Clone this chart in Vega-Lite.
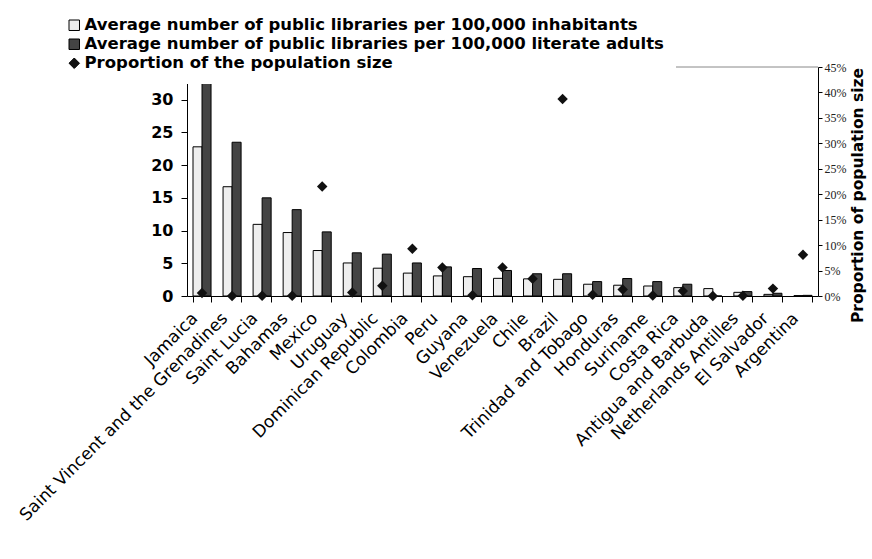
{
  "$schema": "https://vega.github.io/schema/vega-lite/v6.json",
  "width": 631,
  "height": 229,
  "autosize": {"type": "none"},
  "padding": {"left": 187, "top": 67, "right": 54, "bottom": 263},
  "background": "white",
  "config": {
    "view": {"stroke": null},
    "font": "DejaVu Sans",
    "legend": {
      "orient": "none",
      "legendX": -133,
      "legendY": -62,
      "fillColor": "white",
      "strokeColor": null,
      "padding": 12,
      "rowPadding": 2,
      "labelFont": "DejaVu Sans",
      "labelFontWeight": "bold",
      "labelFontSize": 16.5,
      "labelColor": "#000",
      "labelLimit": 700,
      "labelOffset": 2,
      "symbolSize": 110,
      "symbolStrokeColor": "#000",
      "symbolStrokeWidth": 1
    }
  },
  "datasets": {
    "libs": [
      {"country": "Jamaica", "series": "Average number of public libraries per 100,000 inhabitants", "value": 22.8},
      {"country": "Jamaica", "series": "Average number of public libraries per 100,000 literate adults", "value": 34},
      {"country": "Jamaica", "series": "Proportion of the population size", "value": 0.006},
      {"country": "Saint Vincent and the Grenadines", "series": "Average number of public libraries per 100,000 inhabitants", "value": 16.7},
      {"country": "Saint Vincent and the Grenadines", "series": "Average number of public libraries per 100,000 literate adults", "value": 23.5},
      {"country": "Saint Vincent and the Grenadines", "series": "Proportion of the population size", "value": 0.0002},
      {"country": "Saint Lucia", "series": "Average number of public libraries per 100,000 inhabitants", "value": 10.95},
      {"country": "Saint Lucia", "series": "Average number of public libraries per 100,000 literate adults", "value": 15.0},
      {"country": "Saint Lucia", "series": "Proportion of the population size", "value": 0.0003},
      {"country": "Bahamas", "series": "Average number of public libraries per 100,000 inhabitants", "value": 9.7},
      {"country": "Bahamas", "series": "Average number of public libraries per 100,000 literate adults", "value": 13.2},
      {"country": "Bahamas", "series": "Proportion of the population size", "value": 0.0006},
      {"country": "Mexico", "series": "Average number of public libraries per 100,000 inhabitants", "value": 6.95},
      {"country": "Mexico", "series": "Average number of public libraries per 100,000 literate adults", "value": 9.8},
      {"country": "Mexico", "series": "Proportion of the population size", "value": 0.215},
      {"country": "Uruguay", "series": "Average number of public libraries per 100,000 inhabitants", "value": 5.05},
      {"country": "Uruguay", "series": "Average number of public libraries per 100,000 literate adults", "value": 6.6},
      {"country": "Uruguay", "series": "Proportion of the population size", "value": 0.007},
      {"country": "Dominican Republic", "series": "Average number of public libraries per 100,000 inhabitants", "value": 4.25},
      {"country": "Dominican Republic", "series": "Average number of public libraries per 100,000 literate adults", "value": 6.4},
      {"country": "Dominican Republic", "series": "Proportion of the population size", "value": 0.02},
      {"country": "Colombia", "series": "Average number of public libraries per 100,000 inhabitants", "value": 3.5},
      {"country": "Colombia", "series": "Average number of public libraries per 100,000 literate adults", "value": 5.05},
      {"country": "Colombia", "series": "Proportion of the population size", "value": 0.093},
      {"country": "Peru", "series": "Average number of public libraries per 100,000 inhabitants", "value": 3.07},
      {"country": "Peru", "series": "Average number of public libraries per 100,000 literate adults", "value": 4.45},
      {"country": "Peru", "series": "Proportion of the population size", "value": 0.056},
      {"country": "Guyana", "series": "Average number of public libraries per 100,000 inhabitants", "value": 2.95},
      {"country": "Guyana", "series": "Average number of public libraries per 100,000 literate adults", "value": 4.2},
      {"country": "Guyana", "series": "Proportion of the population size", "value": 0.0015},
      {"country": "Venezuela", "series": "Average number of public libraries per 100,000 inhabitants", "value": 2.7},
      {"country": "Venezuela", "series": "Average number of public libraries per 100,000 literate adults", "value": 3.9},
      {"country": "Venezuela", "series": "Proportion of the population size", "value": 0.056},
      {"country": "Chile", "series": "Average number of public libraries per 100,000 inhabitants", "value": 2.62},
      {"country": "Chile", "series": "Average number of public libraries per 100,000 literate adults", "value": 3.4},
      {"country": "Chile", "series": "Proportion of the population size", "value": 0.034},
      {"country": "Brazil", "series": "Average number of public libraries per 100,000 inhabitants", "value": 2.55},
      {"country": "Brazil", "series": "Average number of public libraries per 100,000 literate adults", "value": 3.4},
      {"country": "Brazil", "series": "Proportion of the population size", "value": 0.387},
      {"country": "Trinidad and Tobago", "series": "Average number of public libraries per 100,000 inhabitants", "value": 1.8},
      {"country": "Trinidad and Tobago", "series": "Average number of public libraries per 100,000 literate adults", "value": 2.2},
      {"country": "Trinidad and Tobago", "series": "Proportion of the population size", "value": 0.0025},
      {"country": "Honduras", "series": "Average number of public libraries per 100,000 inhabitants", "value": 1.65},
      {"country": "Honduras", "series": "Average number of public libraries per 100,000 literate adults", "value": 2.67},
      {"country": "Honduras", "series": "Proportion of the population size", "value": 0.013},
      {"country": "Suriname", "series": "Average number of public libraries per 100,000 inhabitants", "value": 1.53},
      {"country": "Suriname", "series": "Average number of public libraries per 100,000 literate adults", "value": 2.2},
      {"country": "Suriname", "series": "Proportion of the population size", "value": 0.0009},
      {"country": "Costa Rica", "series": "Average number of public libraries per 100,000 inhabitants", "value": 1.28},
      {"country": "Costa Rica", "series": "Average number of public libraries per 100,000 literate adults", "value": 1.8},
      {"country": "Costa Rica", "series": "Proportion of the population size", "value": 0.01},
      {"country": "Antigua and Barbuda", "series": "Average number of public libraries per 100,000 inhabitants", "value": 1.13},
      {"country": "Antigua and Barbuda", "series": "Average number of public libraries per 100,000 literate adults", "value": 0},
      {"country": "Antigua and Barbuda", "series": "Proportion of the population size", "value": 0.0002},
      {"country": "Netherlands Antilles", "series": "Average number of public libraries per 100,000 inhabitants", "value": 0.56},
      {"country": "Netherlands Antilles", "series": "Average number of public libraries per 100,000 literate adults", "value": 0.67},
      {"country": "Netherlands Antilles", "series": "Proportion of the population size", "value": 0.0003},
      {"country": "El Salvador", "series": "Average number of public libraries per 100,000 inhabitants", "value": 0.25},
      {"country": "El Salvador", "series": "Average number of public libraries per 100,000 literate adults", "value": 0.42},
      {"country": "El Salvador", "series": "Proportion of the population size", "value": 0.0145},
      {"country": "Argentina", "series": "Average number of public libraries per 100,000 inhabitants", "value": 0.06},
      {"country": "Argentina", "series": "Average number of public libraries per 100,000 literate adults", "value": 0.1},
      {"country": "Argentina", "series": "Proportion of the population size", "value": 0.081}
    ],
    "frame": [{"edge": "top", "value": 35}]
  },
  "resolve": {"scale": {"y": "independent"}},
  "layer": [
    {
      "data": {"name": "libs"},
      "transform": [{"filter": "datum.series !== 'Proportion of the population size'"}],
      "mark": {"type": "bar", "stroke": "#000", "strokeWidth": 1, "clip": true},
      "encoding": {
        "x": {
          "field": "country",
          "type": "nominal",
          "scale": {
            "domain": ["Jamaica", "Saint Vincent and the Grenadines", "Saint Lucia", "Bahamas", "Mexico", "Uruguay", "Dominican Republic", "Colombia", "Peru", "Guyana", "Venezuela", "Chile", "Brazil", "Trinidad and Tobago", "Honduras", "Suriname", "Costa Rica", "Antigua and Barbuda", "Netherlands Antilles", "El Salvador", "Argentina"],
            "paddingInner": 0.4,
            "paddingOuter": 0.2
          },
          "axis": {
            "title": null,
            "labelAngle": -45,
            "labelAlign": "right",
            "labelBaseline": "alphabetic",
            "labelFont": "DejaVu Sans",
            "labelFontSize": 17,
            "labelColor": "#000",
            "labelPadding": 17,
            "labelOffset": -4,
            "labelLimit": 500,
            "tickBand": "extent",
            "tickSize": 6,
            "tickColor": "#000",
            "domainColor": "#000",
            "grid": false
          }
        },
        "xOffset": {
          "field": "series",
          "type": "nominal",
          "scale": {"domain": ["Average number of public libraries per 100,000 inhabitants", "Average number of public libraries per 100,000 literate adults"], "paddingInner": 0, "paddingOuter": 0}
        },
        "y": {
          "field": "value",
          "type": "quantitative",
          "scale": {"domain": [0, 35], "nice": false},
          "axis": {
            "orient": "left",
            "title": null,
            "values": [0, 5, 10, 15, 20, 25, 30],
            "labelFont": "DejaVu Sans",
            "labelFontWeight": "bold",
            "labelFontSize": 16,
            "labelColor": "#000",
            "labelPadding": 8,
            "tickSize": 6,
            "tickColor": "#000",
            "domainColor": "#000",
            "grid": false
          }
        },
        "color": {
          "field": "series",
          "type": "nominal",
          "scale": {
            "domain": ["Average number of public libraries per 100,000 inhabitants", "Average number of public libraries per 100,000 literate adults", "Proportion of the population size"],
            "range": ["#eeeeee", "#444444", "#111111"]
          },
          "legend": {"title": null}
        }
      }
    },
    {
      "data": {"name": "frame"},
      "mark": {"type": "rule", "stroke": "#888", "strokeWidth": 1},
      "encoding": {
        "y": {"field": "value", "type": "quantitative", "scale": {"domain": [0, 35], "nice": false}, "axis": null}
      }
    },
    {
      "data": {"name": "libs"},
      "transform": [{"filter": "datum.series === 'Proportion of the population size'"}],
      "mark": {"type": "point", "filled": true, "size": 110, "opacity": 1},
      "encoding": {
        "x": {"field": "country", "type": "nominal"},
        "y": {
          "field": "value",
          "type": "quantitative",
          "scale": {"domain": [0, 0.45], "nice": false},
          "axis": {
            "orient": "right",
            "title": "Proportion of population size",
            "titleFont": "DejaVu Sans",
            "titleFontWeight": "bold",
            "titleFontSize": 15.5,
            "titleColor": "#000",
            "titleAngle": -90,
            "titleAlign": "center",
            "titleBaseline": "middle",
            "titleX": 39,
            "titleY": 128,
            "values": [0, 0.05, 0.1, 0.15, 0.2, 0.25, 0.3, 0.35, 0.4, 0.45],
            "format": ".0%",
            "labelFont": "Liberation Serif",
            "labelFontSize": 12,
            "labelColor": "#222",
            "labelPadding": 2,
            "tickSize": 4,
            "tickColor": "#000",
            "domainColor": "#000",
            "grid": false
          }
        },
        "color": {"field": "series", "type": "nominal", "legend": {"title": null}},
        "shape": {
          "field": "series",
          "type": "nominal",
          "scale": {
            "domain": ["Average number of public libraries per 100,000 inhabitants", "Average number of public libraries per 100,000 literate adults", "Proportion of the population size"],
            "range": ["square", "square", "diamond"]
          },
          "legend": {"title": null}
        }
      }
    }
  ]
}
